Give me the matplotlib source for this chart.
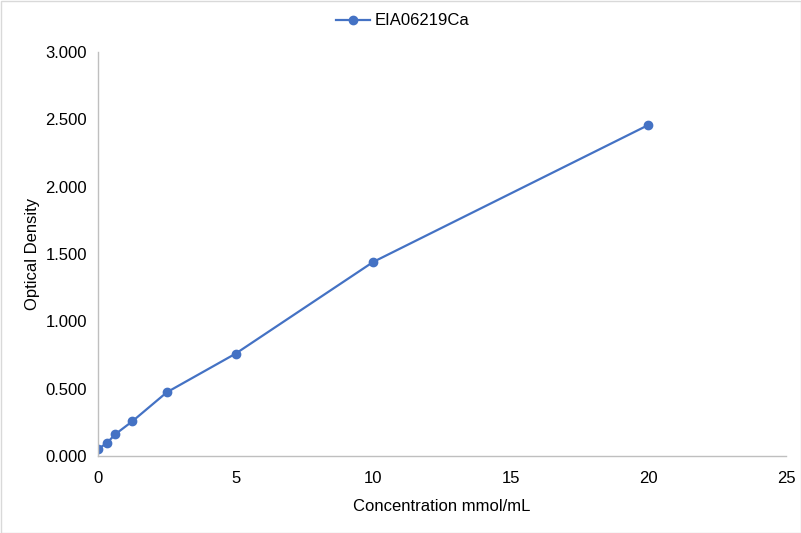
import matplotlib
matplotlib.use("Agg")
import matplotlib.pyplot as plt
from matplotlib.ticker import FormatStrFormatter

plt.rcParams['font.family'] = ['Liberation Sans', 'DejaVu Sans']

conc = [0, 0.3125, 0.625, 1.25, 2.5, 5, 10, 20]
od = [0.052, 0.094, 0.161, 0.258, 0.473, 0.760, 1.441, 2.458]
series_name = "EIA06219Ca"
x_ticks = [0, 5, 10, 15, 20, 25]
y_ticks = [0, 0.5, 1.0, 1.5, 2.0, 2.5, 3.0]

fig = plt.figure(figsize=(8.01, 5.33), dpi=100)
ax = fig.add_axes([98/801, 1-456/533, (786-98)/801, (456-52)/533])

ax.plot(conc, od, color='#4472C4', marker='o', markersize=6, linewidth=1.6, label=series_name)
ax.set_xlim(0, 25)
ax.set_ylim(0, 3.0)
ax.set_xticks(x_ticks)
ax.set_yticks(y_ticks)
ax.yaxis.set_major_formatter(FormatStrFormatter('%.3f'))
ax.tick_params(length=0, labelsize=12, colors='#000000')
ax.tick_params(axis='x', pad=11)
ax.tick_params(axis='y', pad=8)
for s in ['top', 'right']:
    ax.spines[s].set_visible(False)
for s in ['left', 'bottom']:
    ax.spines[s].set_color('#BFBFBF')
    ax.spines[s].set_linewidth(1)
ax.set_xlabel("Concentration mmol/mL", fontsize=12, labelpad=9)
ax.set_ylabel("Optical Density", fontsize=12, labelpad=4)
fig.legend(loc='center', bbox_to_anchor=(403/801, 1-21/533), frameon=False, fontsize=12,
           handlelength=2.0, handletextpad=0.3)

fig.patches.append(plt.Rectangle((0.5/801, 0.5/533), 1-1/801, 1-1/533, transform=fig.transFigure,
                                 fill=False, edgecolor='#D9D9D9', linewidth=1))
fig.savefig("out.png", dpi=100)
